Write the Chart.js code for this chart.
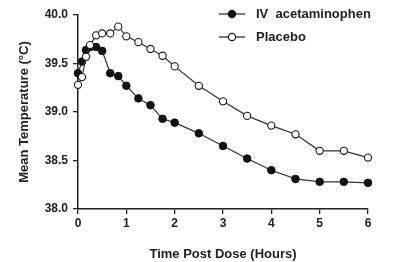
<!DOCTYPE html>
<html>
<head>
<meta charset="utf-8">
<script src="https://cdn.jsdelivr.net/npm/chart.js@4"></script>
<style>
html,body{margin:0;padding:0;background:#fff;}
#wrap{position:relative;width:400px;height:262px;}
#legend{position:absolute;left:218px;top:2px;font:bold 13px "Liberation Sans",Arial,sans-serif;color:#222;}
#legend div{display:flex;align-items:center;height:23px;}
#legend svg{margin-right:10px;}
</style>
</head>
<body>
<div id="wrap">
<canvas id="c" width="400" height="262"></canvas>
<div id="legend"></div>
</div>
<script>
const times = [0, 0.083, 0.167, 0.25, 0.375, 0.5, 0.667, 0.833, 1, 1.25, 1.5, 1.75, 2, 2.5, 3, 3.5, 4, 4.5, 5, 5.5, 6];
const ivAcetaminophen = [39.40, 39.52, 39.64, 39.67, 39.67, 39.63, 39.40, 39.37, 39.27, 39.14, 39.07, 38.93, 38.89, 38.78, 38.65, 38.52, 38.40, 38.31, 38.28, 38.28, 38.27];
const placebo = [39.28, 39.36, 39.57, 39.69, 39.79, 39.81, 39.81, 39.88, 39.78, 39.72, 39.65, 39.58, 39.47, 39.27, 39.11, 38.96, 38.86, 38.77, 38.60, 38.60, 38.53];
const seriesNames = ["IV  acetaminophen", "Placebo"];
const xTicks = [0, 1, 2, 3, 4, 5, 6];
const yTicks = [38.0, 38.5, 39.0, 39.5, 40.0];

const ink = '#222';
const lineCol = '#333';
const FONT = '"Liberation Sans", Arial, sans-serif';

function pts(vals){ return times.map((t,i)=>({x:t,y:vals[i]})); }

new Chart(document.getElementById('c'), {
  type: 'line',
  data: {
    datasets: [
      {label: seriesNames[1], data: pts(placebo), borderColor: lineCol, borderWidth: 1.2,
       pointBackgroundColor: '#fff', pointBorderColor: '#1a1a1a', pointBorderWidth: 1.1,
       pointRadius: 3.6, tension: 0, clip: false},
      {label: seriesNames[0], data: pts(ivAcetaminophen), borderColor: lineCol, borderWidth: 1.2,
       pointBackgroundColor: '#111', pointBorderColor: '#111', pointBorderWidth: 1,
       pointRadius: 3.8, tension: 0, clip: false}
    ]
  },
  options: {
    responsive: false,
    animation: false,
    events: [],
    layout: {padding: {left: 0, right: 32, top: 15, bottom: 0}},
    plugins: {legend: {display: false}, tooltip: {enabled: false}},
    scales: {
      x: {
        type: 'linear', min: 0, max: 6,
        afterBuildTicks: s => { s.ticks = xTicks.map(v=>({value:v})); },
        afterFit: s => { s.height = 53; },
        grid: {display: true, drawOnChartArea: false, drawTicks: true, tickLength: 5, color: ink, lineWidth: 1.3},
        border: {display: true, color: ink, width: 1.5},
        ticks: {color: ink, padding: 2, font: {family: FONT, weight: 'bold', size: 12}, callback: v => String(v)},
        title: {display: true, text: 'Time Post Dose (Hours)', color: ink, padding: {top: 4, bottom: 0},
                font: {family: FONT, weight: 'bold', size: 13}}
      },
      y: {
        type: 'linear', min: 38, max: 40,
        afterBuildTicks: s => { s.ticks = yTicks.map(v=>({value:v})); },
        afterFit: s => { s.width = 78; },
        grid: {display: true, drawOnChartArea: false, drawTicks: true, tickLength: 5, color: ink, lineWidth: 1.3},
        border: {display: true, color: ink, width: 1.5},
        ticks: {color: ink, padding: 5, font: {family: FONT, weight: 'bold', size: 12}, callback: v => Number(v).toFixed(1)},
        title: {display: true, text: 'Mean Temperature (°C)', color: ink, padding: {top: 17, bottom: 0},
                font: {family: FONT, weight: 'bold', size: 13}}
      }
    }
  }
});

// legend
const leg = document.getElementById('legend');
[[seriesNames[0], '#111'], [seriesNames[1], '#fff']].forEach(([name, fill]) => {
  const row = document.createElement('div');
  row.innerHTML = '<svg width="28" height="10"><line x1="1" y1="5" x2="27" y2="5" stroke="' + lineCol + '" stroke-width="1.3"/>' +
    '<circle cx="14" cy="5" r="3.6" fill="' + fill + '" stroke="#111" stroke-width="1.1"/></svg>' +
    '<span style="white-space:pre">' + name + '</span>';
  leg.appendChild(row);
});
</script>
</body>
</html>
